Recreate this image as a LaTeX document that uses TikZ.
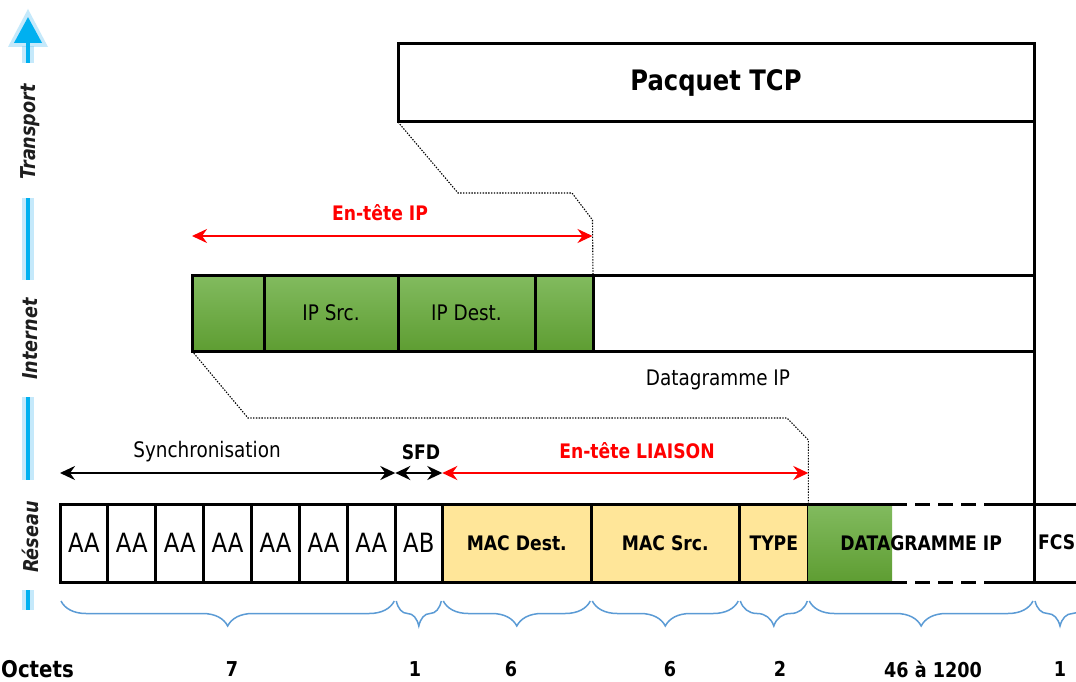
\documentclass[tikz,border=0pt]{standalone}
\usepackage{fontspec}
\setmainfont{DejaVu Sans}[FakeStretch=0.86]
\usetikzlibrary{arrows.meta,decorations.pathreplacing}
\definecolor{axisblue}{RGB}{0,176,240}
\definecolor{glowblue}{RGB}{110,200,245}
\definecolor{braceblue}{RGB}{91,155,213}
\definecolor{macyellow}{RGB}{255,230,153}
\definecolor{greentop}{RGB}{130,187,95}
\definecolor{greenbot}{RGB}{94,157,50}
\definecolor{hdrred}{RGB}{255,0,0}
\definecolor{layertext}{RGB}{30,30,30}
\newcommand\fsReg{\fontsize{21.4}{25}\selectfont}
\newcommand\fsBold{\fontsize{20}{24}\selectfont\bfseries}
\newcommand\fsBig{\fontsize{28.2}{32}\selectfont\bfseries}
\newcommand\fsAA{\fontsize{26.5}{30}\selectfont}
\newcommand\fsNum{\fontsize{20.5}{24}\selectfont\bfseries}
\begin{document}
\begin{tikzpicture}[x=1pt,y=-1pt,
  cell/.style={draw=black,line width=3pt,inner sep=0pt,outer sep=0pt,anchor=north west,minimum height=78pt},
  ipcell/.style={cell,minimum height=76pt},
  greencell/.style={top color=greentop,bottom color=greenbot},
  yellowcell/.style={fill=macyellow},
  conn/.style={draw=black,line width=1.1pt,dash pattern=on 1.4pt off 1.4pt},
  dimarrow/.style={line width=2.4pt,{Stealth[length=15pt,width=14pt,inset=5pt]}-{Stealth[length=15pt,width=14pt,inset=5pt]}},
  redarrow/.style={dimarrow,draw=hdrred},
  lbl/.style={inner sep=0pt,font=\fsReg},
  blbl/.style={inner sep=0pt,font=\fsBold},
  nlbl/.style={inner sep=0pt,font=\fsNum},
  bracestyle/.style={draw=braceblue,line width=1.5pt,decorate,decoration={brace,mirror,amplitude=25pt}},
  axisline/.style={draw=axisblue,line width=4pt},
  axisglow/.style={draw=glowblue,line width=12pt,opacity=0.4},
  layer/.style={inner sep=0pt,rotate=90,text=layertext,font=\fontsize{20.5}{24}\selectfont\bfseries\itshape}
]
\clip (0,0) rectangle (1076,682);
\fill[white] (0,0) rectangle (1076,682);

% ---- layer axis ----
\foreach \a/\b in {63/46,198/280,397/480,590/610}{
  \draw[axisglow] (28,\a) -- (28,\b);
}
\fill[glowblue,opacity=0.4] (28,9) -- (48,47) -- (8,47) -- cycle;
\coordinate (axtop) at (28,17);
\coordinate (axbase) at (28,63);
\draw[axisline,-{Triangle[length=26pt,width=27pt]}] (axbase) -- (axtop);
\draw[axisline] (28,198) -- (28,280);
\draw[axisline] (28,397) -- (28,480);
\draw[axisline] (28,590) -- (28,610);
\node[layer] (ltrans) at (30,132) {Transport};
\node[layer] (linter) at (30,339) {Internet};
\node[layer] (lres) at (30,537) {Réseau};

% ---- TCP packet ----
\node[cell,minimum width=636pt,font=\fsBig] (tcp) at (398,44) {Pacquet TCP};

% ---- IP datagram ----
\node[ipcell,greencell,minimum width=72pt] (ip1) at (192,275) {};
\node[ipcell,greencell,minimum width=134pt,font=\fsReg] (ipsrc) at (264,275) {IP Src.};
\node[ipcell,greencell,minimum width=137pt,font=\fsReg] (ipdst) at (398,275) {IP Dest.};
\node[ipcell,greencell,minimum width=58pt] (ip4) at (535,275) {};
\node[ipcell,minimum width=441pt] (ipdata) at (593,275) {};
\node[lbl] (dglabel) at (718,380) {Datagramme IP};

% ---- Ethernet frame ----
\foreach \i/\x in {1/60,2/107.9,3/155.8,4/203.7,5/251.6,6/299.5,7/347.4}{
  \node[cell,minimum width=47.9pt,font=\fsAA] (aa\i) at (\x,504) {AA};
}
\node[cell,minimum width=47pt,font=\fsAA] (ab) at (395.3,504) {AB};
\node[cell,yellowcell,minimum width=149pt,font=\fsBold] (macd) at (442.3,504) {MAC Dest.};
\node[cell,yellowcell,minimum width=148pt,font=\fsBold] (macs) at (591.3,504) {MAC Src.};
\node[cell,yellowcell,minimum width=69pt,font=\fsBold] (type) at (739.3,504) {TYPE};
\fill[top color=greentop,bottom color=greenbot] (808.3,504) rectangle (892,582);
\node[inner sep=0pt,outer sep=0pt,anchor=north west,minimum width=225.7pt,minimum height=78pt,font=\fsBold] (dgram) at (808.3,504) {DATAGRAMME IP};
\node[cell,minimum width=60pt] (fcs) at (1034,504) {};
\node[blbl,anchor=west] (fcsl) at (1038,542) {FCS};
\draw[line width=3pt] (dgram.north west) -- (892,504);
\draw[line width=3pt] (dgram.south west) -- (892,582);
\draw[line width=3pt,dash pattern=on 15pt off 8pt] (892,504) -- (995,504);
\draw[line width=3pt,dash pattern=on 15pt off 8pt] (892,582) -- (995,582);
\draw[line width=3pt] (995,504) -- (dgram.north east);
\draw[line width=3pt] (995,582) -- (dgram.south east);
\draw[line width=3pt] (tcp.north east) -- (fcs.south west);

% ---- dotted connectors ----
\coordinate (t1) at (458,193);
\coordinate (t2) at (572,193);
\coordinate (t3) at (592.5,220);
\draw[conn] (tcp.south west) -- (t1) -- (t2) -- (t3) -- (ip4.north east);
\coordinate (d1) at (248,418);
\coordinate (d2) at (787,418);
\coordinate (d3) at (808.3,440);
\draw[conn] (ip1.south west) -- (d1) -- (d2) -- (d3) -- (type.north east);

% ---- header arrows ----
\coordinate (iph1) at (192,236);
\coordinate (iph2) at (592.5,236);
\draw[redarrow] (iph1) -- (iph2);
\node[blbl,text=hdrred] (iphl) at (380,213) {En-tête IP};

\coordinate (sy1) at (60,473);
\coordinate (sy2) at (395.3,473);
\coordinate (sy3) at (442.3,473);
\coordinate (sy4) at (808.3,473);
\draw[dimarrow] (sy1) -- (sy2);
\draw[dimarrow] (sy2) -- (sy3);
\draw[redarrow] (sy3) -- (sy4);
\node[lbl] (synl) at (207,452) {Synchronisation};
\node[blbl] (sfdl) at (421,452) {SFD};
\node[blbl,text=hdrred] (liaisl) at (637,451) {En-tête LIAISON};

% ---- braces ----
\foreach \a/\b in {60/395.3,395.3/442.3,442.3/591.3,591.3/739.3,739.3/808.3,808.3/1034,1034/1086}{
  \draw[bracestyle] (\a+1,601) -- (\b-1,601);
}

% ---- byte counts ----
\node[inner sep=0pt,font=\fontsize{23}{27}\selectfont\bfseries,anchor=west] (octets) at (1,669) {Octets};
\node[nlbl] (n7) at (232,669) {7};
\node[nlbl] (n1) at (415,669) {1};
\node[nlbl] (n6a) at (511,669) {6};
\node[nlbl] (n6b) at (670,669) {6};
\node[nlbl] (n2) at (780,669) {2};
\node[nlbl] (n46) at (933,669) {46 à 1200};
\node[nlbl] (n1b) at (1060,669) {1};
\end{tikzpicture}
\end{document}
